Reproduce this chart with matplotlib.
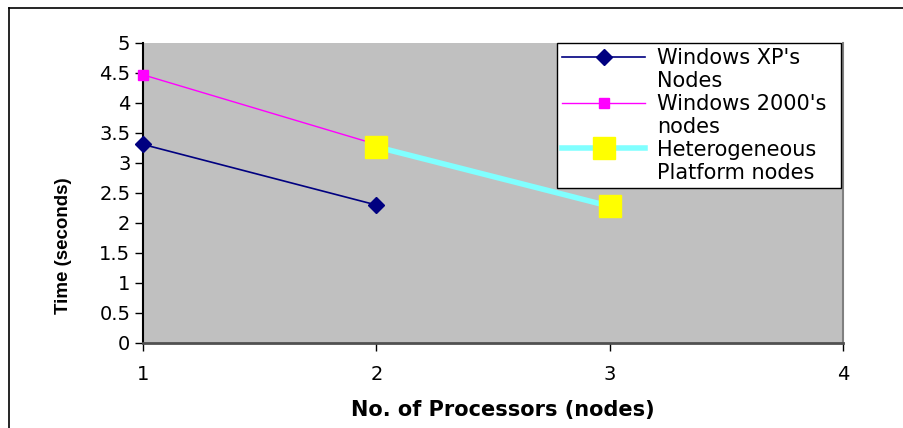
import matplotlib.pyplot as plt
from matplotlib.lines import Line2D

plt.rcParams['font.family'] = ['DejaVu Sans']

nodes_xp = [1, 2]
time_xp = [3.31, 2.30]
nodes_2000 = [1, 2]
time_2000 = [4.47, 3.31]
nodes_het = [2, 3]
time_het = [3.27, 2.28]

labels = ["Windows XP's\nNodes", "Windows 2000's\nnodes", "Heterogeneous\nPlatform nodes"]
x_ticks = [1, 2, 3, 4]
y_ticks = [0, 0.5, 1, 1.5, 2, 2.5, 3, 3.5, 4, 4.5, 5]

fig = plt.figure(figsize=(9.04, 4.28), dpi=100)
ax = fig.add_axes([143 / 904, 1 - 343 / 428, 700 / 904, 300 / 428])
ax.set_facecolor('#C0C0C0')

ax.plot(nodes_xp, time_xp, color='#000080', lw=1.2, marker='D', ms=8,
        label=labels[0], clip_on=False, zorder=3)
ax.plot(nodes_2000, time_2000, color='#FF00FF', lw=1.0, marker='s', ms=7,
        label=labels[1], clip_on=False, zorder=3)
ax.plot(nodes_het, time_het, color='#80FFFF', lw=4, marker='s', ms=16,
        mfc='#FFFF00', mec='#FFFF00', label=labels[2], clip_on=False, zorder=4)

ax.set_xlim(1, 4)
ax.set_ylim(0, 5)
ax.set_xticks(x_ticks)
ax.set_yticks(y_ticks)
ax.set_yticklabels([f'{v:g}' for v in y_ticks])
ax.tick_params(axis='both', direction='out', length=6, width=1, labelsize=14,
               colors='black', pad=3)
ax.tick_params(axis='x', pad=10)

ax.spines['top'].set_visible(False)
ax.spines['right'].set_color('#808080')
ax.spines['right'].set_linewidth(1.5)
ax.spines['left'].set_color('black')
ax.spines['left'].set_linewidth(1.5)
ax.spines['bottom'].set_color('#505050')
ax.spines['bottom'].set_linewidth(2)

ax.set_xlabel('No. of Processors (nodes)', fontsize=15, fontweight='bold')
ax.xaxis.set_label_coords(0.514, -0.19)
ax.set_ylabel('Time (seconds)', fontsize=13.5, fontweight='bold',
              family='Liberation Sans')
ax.yaxis.set_label_coords(-0.101, 0.323)

leg = ax.legend(loc='upper left', bbox_to_anchor=(0.591, 1.0, 0.406, 0.0),
                mode='expand', fontsize=15, frameon=True, fancybox=False,
                borderaxespad=0, handlelength=4.0, handletextpad=0.55,
                handleheight=1.2, labelspacing=0.12, borderpad=0.25)
leg.get_frame().set_edgecolor('black')
leg.get_frame().set_linewidth(1)
leg.get_frame().set_facecolor('white')
leg.get_frame().set_alpha(1)
leg.set_zorder(10)
# put each handle level with the first line of its label
for col in leg._legend_handle_box.get_children():
    for row in col.get_children():
        row.align = 'top'

# outer chart frame (left and top edges visible)
fig.add_artist(Line2D([9 / 904, 9 / 904], [0, 1 - 8 / 428], color='black', lw=1.2))
fig.add_artist(Line2D([9 / 904, 1], [1 - 8 / 428, 1 - 8 / 428], color='black', lw=1.2))

fig.savefig('out.png', dpi=100)
